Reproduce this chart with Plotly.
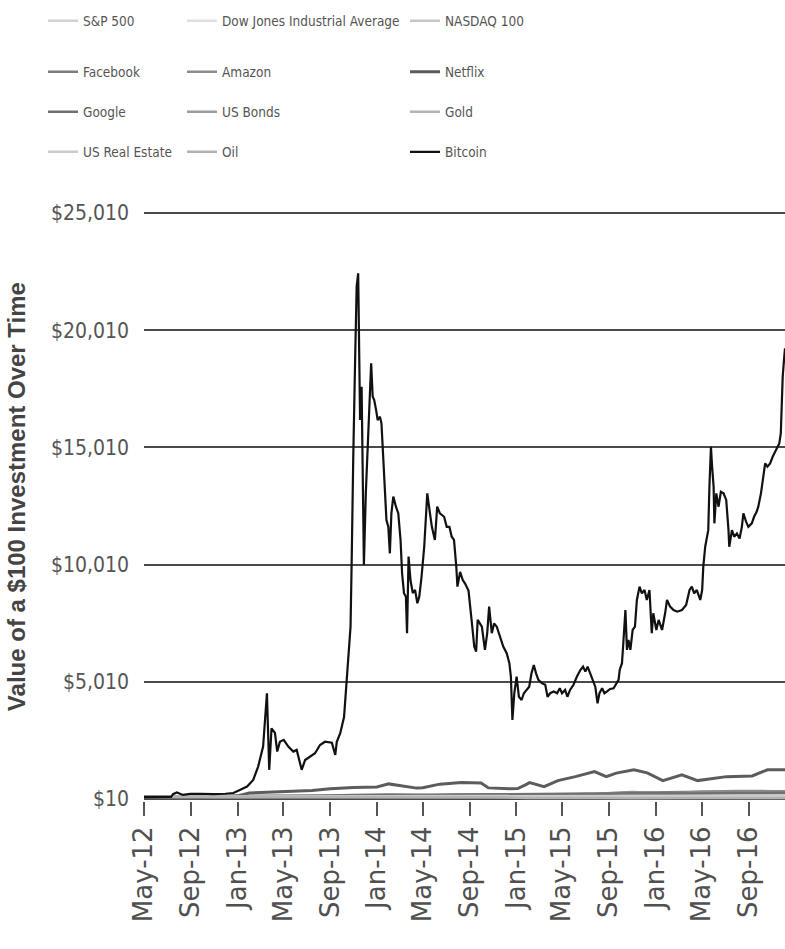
import plotly.graph_objects as go

# ---- slower-moving assets, sampled quarterly (value of $100 invested May 2012) ----
asset_dates = [
    "2012-05-01", "2012-08-01", "2012-11-01", "2013-02-01", "2013-05-01",
    "2013-08-01", "2013-11-01", "2014-02-01", "2014-05-01", "2014-08-01",
    "2014-11-01", "2015-02-01", "2015-05-01", "2015-08-01", "2015-11-01",
    "2016-02-01", "2016-05-01", "2016-08-01", "2016-11-01", "2016-12-05",
]
sp500 = [100, 104, 104, 113, 117, 123, 131, 133, 142, 149, 155, 159, 157, 148, 158, 146, 157, 164, 165, 170]
dow_jones = [100, 102, 101, 109, 116, 117, 123, 123, 127, 131, 136, 138, 138, 127, 135, 127, 136, 142, 147, 152]
nasdaq100 = [100, 105, 107, 110, 115, 125, 135, 140, 145, 155, 160, 165, 170, 170, 175, 165, 170, 185, 185, 188]
facebook = [100, 50, 60, 75, 65, 110, 125, 165, 155, 195, 200, 210, 210, 235, 275, 280, 310, 325, 310, 305]
amazon = [100, 110, 110, 120, 115, 130, 160, 165, 140, 150, 140, 170, 195, 230, 300, 250, 320, 350, 340, 335]
google = [100, 105, 115, 130, 145, 145, 175, 200, 185, 190, 180, 180, 180, 215, 250, 240, 240, 260, 265, 270]
us_bonds = [100, 102, 102, 101, 100, 97, 98, 99, 101, 103, 104, 106, 104, 104, 104, 106, 107, 108, 104, 104]
gold = [100, 98, 105, 100, 85, 85, 77, 80, 78, 80, 72, 75, 72, 69, 66, 75, 78, 83, 75, 70]
us_real_estate = [100, 104, 106, 110, 115, 118, 120, 121, 124, 127, 128, 131, 134, 137, 139, 140, 143, 146, 148, 149]
oil = [100, 100, 88, 97, 95, 110, 95, 104, 103, 97, 78, 52, 60, 46, 42, 32, 47, 46, 47, 53]

# ---- Netflix ----
netflix_dates = [
    "2012-05-01", "2012-08-01", "2012-10-01", "2012-12-01", "2013-01-01", "2013-02-01",
    "2013-05-01", "2013-07-15", "2013-09-01", "2013-11-01", "2014-01-01", "2014-02-01",
    "2014-04-15", "2014-05-01", "2014-06-15", "2014-08-10", "2014-10-01", "2014-10-20",
    "2014-12-15", "2015-01-05", "2015-01-25", "2015-02-05", "2015-03-15", "2015-04-20",
    "2015-06-05", "2015-07-25", "2015-08-25", "2015-09-20", "2015-11-05", "2015-12-10",
    "2016-01-20", "2016-03-10", "2016-04-20", "2016-07-05", "2016-09-10", "2016-10-20",
    "2016-12-05",
]
netflix = [
    100, 80, 90, 120, 140, 260,
    320, 370, 440, 500, 520, 650,
    470, 490, 640, 705, 690, 480,
    440, 450, 610, 705, 535, 790,
    960, 1175, 960, 1110, 1250, 1120,
    790, 1035, 790, 960, 990, 1250,
    1250,
]

# ---- Bitcoin ----
bitcoin_dates = [
    "2012-05-01", "2012-06-12", "2012-07-11", "2012-07-16", "2012-07-26", "2012-08-11",
    "2012-08-30", "2012-09-25", "2012-10-29", "2012-11-30", "2012-12-21", "2013-01-07",
    "2013-01-26", "2013-02-11", "2013-02-24", "2013-03-09", "2013-03-19", "2013-03-25",
    "2013-03-31", "2013-04-09", "2013-04-15", "2013-04-22", "2013-05-02", "2013-05-14",
    "2013-05-27", "2013-06-05", "2013-06-18", "2013-06-27", "2013-07-10", "2013-07-23",
    "2013-08-05", "2013-08-18", "2013-09-05", "2013-09-14", "2013-09-18", "2013-09-27",
    "2013-10-07", "2013-10-18", "2013-10-24", "2013-10-27", "2013-10-29", "2013-10-31",
    "2013-11-05", "2013-11-09", "2013-11-13", "2013-11-16", "2013-11-18", "2013-11-22",
    "2013-11-25", "2013-11-28", "2013-12-03", "2013-12-07", "2013-12-12", "2013-12-17",
    "2013-12-21", "2013-12-25", "2013-12-30", "2014-01-03", "2014-01-09", "2014-01-13",
    "2014-01-18", "2014-01-22", "2014-01-26", "2014-01-31", "2014-02-04", "2014-02-08",
    "2014-02-13", "2014-02-20", "2014-02-26", "2014-03-04", "2014-03-08", "2014-03-13",
    "2014-03-18", "2014-03-21", "2014-03-25", "2014-03-30", "2014-04-05", "2014-04-11",
    "2014-04-17", "2014-04-22", "2014-04-28", "2014-05-05", "2014-05-10", "2014-05-13",
    "2014-05-20", "2014-05-25", "2014-06-02", "2014-06-08", "2014-06-15", "2014-06-26",
    "2014-07-03", "2014-07-10", "2014-07-16", "2014-07-22", "2014-07-28", "2014-07-31",
    "2014-08-07", "2014-08-14", "2014-08-20", "2014-08-29", "2014-09-07", "2014-09-13",
    "2014-09-18", "2014-09-22", "2014-10-03", "2014-10-11", "2014-10-17", "2014-10-22",
    "2014-10-29", "2014-11-04", "2014-11-11", "2014-11-19", "2014-11-28", "2014-12-07",
    "2014-12-14", "2014-12-18", "2014-12-22", "2014-12-27", "2015-01-02", "2015-01-08",
    "2015-01-15", "2015-01-21", "2015-01-28", "2015-02-04", "2015-02-10", "2015-02-16",
    "2015-02-22", "2015-02-28", "2015-03-09", "2015-03-18", "2015-03-24", "2015-03-31",
    "2015-04-09", "2015-04-18", "2015-04-25", "2015-05-01", "2015-05-09", "2015-05-15",
    "2015-05-22", "2015-05-31", "2015-06-09", "2015-06-18", "2015-06-25", "2015-07-01",
    "2015-07-07", "2015-07-14", "2015-07-21", "2015-07-27", "2015-08-02", "2015-08-07",
    "2015-08-14", "2015-08-20", "2015-08-27", "2015-09-04", "2015-09-13", "2015-09-22",
    "2015-09-26", "2015-09-29", "2015-10-05", "2015-10-09", "2015-10-14", "2015-10-18",
    "2015-10-22", "2015-10-27", "2015-11-02", "2015-11-08", "2015-11-13", "2015-11-20",
    "2015-11-26", "2015-12-03", "2015-12-09", "2015-12-16", "2015-12-22", "2015-12-26",
    "2016-01-03", "2016-01-09", "2016-01-18", "2016-01-26", "2016-01-31", "2016-02-08",
    "2016-02-17", "2016-02-27", "2016-03-10", "2016-03-21", "2016-03-30", "2016-04-05",
    "2016-04-11", "2016-04-18", "2016-04-27", "2016-05-02", "2016-05-05", "2016-05-10",
    "2016-05-14", "2016-05-18", "2016-05-21", "2016-05-25", "2016-05-28", "2016-06-01",
    "2016-06-03", "2016-06-08", "2016-06-14", "2016-06-20", "2016-06-27", "2016-07-04",
    "2016-07-10", "2016-07-12", "2016-07-19", "2016-07-25", "2016-08-01", "2016-08-08",
    "2016-08-14", "2016-08-18", "2016-08-25", "2016-08-31", "2016-09-09", "2016-09-15",
    "2016-09-22", "2016-09-26", "2016-10-03", "2016-10-09", "2016-10-14", "2016-10-20",
    "2016-10-27", "2016-11-03", "2016-11-09", "2016-11-15", "2016-11-20", "2016-11-24",
    "2016-11-27", "2016-11-29", "2016-12-03", "2016-12-05",
]
bitcoin = [
    100, 100, 100, 210, 280, 180,
    220, 230, 210, 230, 260, 390,
    535, 820, 1390, 2240, 4520, 1250,
    3020, 2830, 2030, 2450, 2530, 2240,
    2030, 2100, 1250, 1670, 1820, 1960,
    2310, 2450, 2410, 1890, 2450, 2810,
    3500, 5940, 7360, 10200, 13050, 14470,
    18740, 21870, 22440, 19450, 16180, 17600,
    14470, 9990, 13050, 14760, 16470, 18600,
    17180, 17030, 16600, 16180, 16320, 16040,
    14470, 13050, 11910, 11620, 10490, 12200,
    12910, 12480, 12200, 11060, 9640, 8790,
    8640, 7080, 10350, 9350, 8790, 8930,
    8360, 8640, 9490, 10770, 12200, 13050,
    12200, 11620, 11060, 12480, 12200, 12050,
    11620, 11620, 11200, 11060, 9920, 9070,
    9700, 9350, 9200, 8900, 7500, 6510,
    6300, 7650, 7360, 6370, 7080, 8215,
    7080, 7500, 7360, 6930, 6510, 6225,
    5800, 5230, 3380, 4520, 5230, 4370,
    4230, 4520, 4660, 4800, 5370, 5725,
    5370, 5090, 4950, 4880, 4370, 4520,
    4590, 4520, 4730, 4520, 4660, 4370,
    4660, 4880, 5230, 5510, 5655, 5440,
    5655, 5370, 5090, 4800, 4090, 4520,
    4730, 4520, 4600, 4700, 4730, 5010,
    5090, 5510, 5800, 6790, 8070, 6370,
    6790, 6370, 7220, 7360, 8500, 9070,
    8785, 8925, 8500, 8925, 7080, 7930,
    7220, 7650, 7220, 7930, 8500, 8215,
    8070, 8000, 8070, 8290, 8925, 9070,
    8785, 8925, 8500, 8925, 9920, 10770,
    11200, 11480, 13330, 15040, 14190, 13330,
    11770, 13050, 12480, 13120, 13050, 12770,
    11480, 10770, 11480, 11200, 11340, 11120,
    11620, 12200, 11840, 11620, 11770, 12050,
    12270, 12480, 13050, 13900, 14330, 14190,
    14330, 14620, 14830, 15040, 15180, 15610,
    17030, 18030, 18880, 19240,
]

y_ticks = [10, 5010, 10010, 15010, 20010, 25010]
y_tick_labels = ["$10", "$5,010", "$10,010", "$15,010", "$20,010", "$25,010"]
x_ticks = ["2012-05-01", "2012-09-01", "2013-01-01", "2013-05-01", "2013-09-01",
           "2014-01-01", "2014-05-01", "2014-09-01", "2015-01-01", "2015-05-01",
           "2015-09-01", "2016-01-01", "2016-05-01", "2016-09-01"]
x_tick_labels = ["May-12", "Sep-12", "Jan-13", "May-13", "Sep-13", "Jan-14", "May-14",
                 "Sep-14", "Jan-15", "May-15", "Sep-15", "Jan-16", "May-16", "Sep-16"]
y_title = "Value of a $100 Investment Over Time"

# name, dates, values, colour, width, legend column, legend row
series = [
    ("S&P 500", asset_dates, sp500, "#d2d2d2", 2.5, 0, 0),
    ("Dow Jones Industrial Average", asset_dates, dow_jones, "#e0e0e0", 2.5, 1, 0),
    ("NASDAQ 100", asset_dates, nasdaq100, "#c6c6c6", 2.5, 2, 0),
    ("Facebook", asset_dates, facebook, "#7c7c7c", 2.5, 0, 1),
    ("Amazon", asset_dates, amazon, "#8c8c8c", 2.5, 1, 1),
    ("Netflix", netflix_dates, netflix, "#5c5c5c", 3, 2, 1),
    ("Google", asset_dates, google, "#707070", 2.5, 0, 2),
    ("US Bonds", asset_dates, us_bonds, "#9c9c9c", 2.5, 1, 2),
    ("Gold", asset_dates, gold, "#b4b4b4", 2.5, 2, 2),
    ("US Real Estate", asset_dates, us_real_estate, "#cccccc", 2.5, 0, 3),
    ("Oil", asset_dates, oil, "#b2b2b2", 2.5, 1, 3),
    ("Bitcoin", bitcoin_dates, bitcoin, "#111111", 2.2, 2, 3),
]

W, H = 785, 949
col_x = [43, 182, 405]
row_y = [21, 72, 112, 152]
narrow = "Liberation Sans Narrow, DejaVu Sans Condensed, Liberation Sans"
legend_font = dict(family=narrow, size=13.5, color="#555555")

fig = go.Figure()
legends = {}
for i, (name, dates, vals, color, width, col, row) in enumerate(series):
    key = "legend" if i == 0 else f"legend{i + 1}"
    fig.add_trace(go.Scatter(
        x=dates, y=vals, name=name, mode="lines",
        line=dict(color=color, width=width),
        legend=key,
    ))
    legends[key] = dict(
        x=col_x[col] / W, y=1 - row_y[row] / H,
        xref="container", yref="container",
        xanchor="left", yanchor="middle",
        bgcolor="rgba(0,0,0,0)", borderwidth=0,
        font=legend_font,
    )

fig.update_layout(
    width=W, height=H,
    margin=dict(l=144, r=0, t=211, b=148, autoexpand=False),
    paper_bgcolor="white", plot_bgcolor="white",
    showlegend=True,
    **legends,
)

# vertical axis title, set well left of the tick labels
fig.add_annotation(
    text=f"<b>{y_title}</b>",
    xref="paper", yref="paper",
    x=(16 - 144) / (W - 144), y=0.515,
    xanchor="center", yanchor="middle",
    textangle=-90, showarrow=False,
    font=dict(family="Liberation Sans, Arial", size=24, color="#444444"),
)

fig.update_xaxes(
    type="date",
    range=["2012-05-01", "2016-12-05"],
    tickvals=x_ticks, ticktext=x_tick_labels,
    tickangle=-90,
    ticks="outside", ticklen=14, tickwidth=2, tickcolor="#555555",
    tickfont=dict(family="DejaVu Sans", size=26, color="#505050"),
    showgrid=False, showline=False, zeroline=False,
    automargin=False,
)
fig.update_yaxes(
    range=[-80, 25100],
    tickvals=y_ticks, ticktext=y_tick_labels,
    tickfont=dict(family=narrow, size=21, color="#555555"),
    ticks="", ticklabelstandoff=14,
    showgrid=True, gridcolor="#4a4a4a", gridwidth=2,
    zeroline=False, showline=False,
    automargin=False,
)

fig.write_html("out.html")
